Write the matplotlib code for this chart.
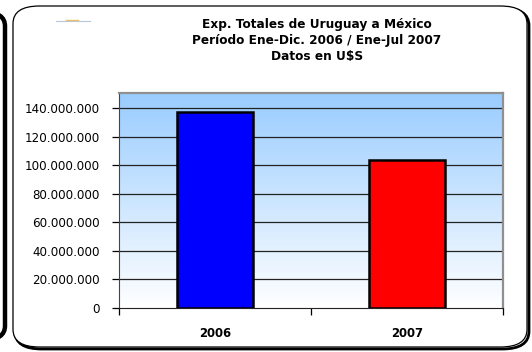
import numpy as np
import matplotlib
matplotlib.use('Agg')
import matplotlib.pyplot as plt
from matplotlib.patches import FancyBboxPatch
from matplotlib.colors import LinearSegmentedColormap
from matplotlib.ticker import FuncFormatter
from matplotlib.lines import Line2D

years = ['2006', '2007']
exports = [137000000, 103500000]
bar_colors = ['#0000FF', '#FF0000']
y_ticks = [0, 20000000, 40000000, 60000000, 80000000, 100000000, 120000000, 140000000]
title = 'Exp. Totales de Uruguay a México\nPeríodo Ene-Dic. 2006 / Ene-Jul 2007\nDatos en U$S'

plt.rcParams['font.family'] = ['DejaVu Sans']

W, H = 532, 352
fig = plt.figure(figsize=(W / 100, H / 100), dpi=100)


def px(x, y):
    return x / W, 1 - y / H


# frames
left_box = FancyBboxPatch((-60 / W, 12 / H), 65 / W, 328 / H,
                          boxstyle='round,pad=0,rounding_size=0.04',
                          transform=fig.transFigure, fill=False,
                          edgecolor='black', linewidth=3.2)
fig.patches.append(left_box)
shadow = FancyBboxPatch((15 / W, 3 / H), 514 / W, 341 / H,
                        boxstyle='round,pad=0,rounding_size=0.05',
                        transform=fig.transFigure, fill=False,
                        edgecolor='black', linewidth=2.0)
fig.patches.append(shadow)
main_box = FancyBboxPatch((13 / W, 5 / H), 514 / W, 341 / H,
                          boxstyle='round,pad=0,rounding_size=0.05',
                          transform=fig.transFigure, facecolor='white',
                          edgecolor='black', linewidth=0.9)
fig.patches.append(main_box)

# small logo mark
fig.lines.append(Line2D([56 / W, 90 / W], [1 - 21 / H] * 2, transform=fig.transFigure,
                        color='#b8c8dc', linewidth=0.8))
fig.lines.append(Line2D([66 / W, 78 / W], [1 - 19.5 / H] * 2, transform=fig.transFigure,
                        color='#e8c070', linewidth=1.0))

l, t = px(119, 93)
r, b = px(503, 308)
ax = fig.add_axes([l, b, r - l, t - b])
ax.set_zorder(5)

ymax = 150500000
cmap = LinearSegmentedColormap.from_list('bg', ['#FFFFFF', '#99CCFF'])
grad = np.linspace(0, 1, 256).reshape(-1, 1)
ax.imshow(grad, cmap=cmap, origin='lower', aspect='auto',
          extent=[-0.5, 1.5, 0, ymax], zorder=0)

x = np.arange(len(years))
ax.bar(x, exports, width=0.4, color=bar_colors, edgecolor='black', linewidth=1.8, zorder=3)

for v in y_ticks[1:]:
    ax.axhline(v, color='#222222', linewidth=0.9, zorder=2)

ax.set_xlim(-0.5, 1.5)
ax.set_ylim(0, ymax)
ax.set_yticks(y_ticks)
ax.yaxis.set_major_formatter(FuncFormatter(lambda v, p: f'{int(v):,}'.replace(',', '.')))
ax.tick_params(axis='y', direction='out', length=5, width=0.9, labelsize=8.6, pad=9)

ax.set_xticks([-0.5, 0.5, 1.5])
ax.set_xticklabels([])
ax.set_xticks(x, minor=True)
ax.set_xticklabels(years, minor=True, fontweight='bold', fontsize=8.4)
ax.tick_params(axis='x', which='major', direction='out', length=5, width=0.9)
ax.tick_params(axis='x', which='minor', length=0, pad=14)

for s in ['top', 'right']:
    ax.spines[s].set_color('#909090')
    ax.spines[s].set_linewidth(1.6)
ax.spines['left'].set_color('#444444')
ax.spines['bottom'].set_color('#222222')

fig.text(317 / W, 1 - 18 / H, title, ha='center', va='top', fontsize=8.7,
         fontweight='bold', linespacing=1.3, zorder=6)

fig.savefig('out.png', dpi=100)
